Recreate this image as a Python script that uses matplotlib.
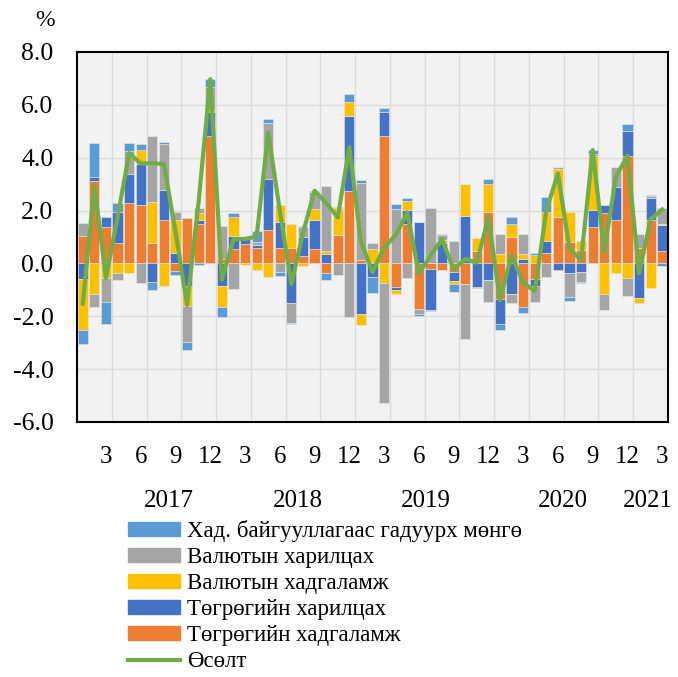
import numpy as np
import matplotlib
matplotlib.use("Agg")
import matplotlib.pyplot as plt
from matplotlib.patches import Patch
from matplotlib.lines import Line2D

plt.rcParams['font.family'] = ['Liberation Serif', 'DejaVu Serif']
plt.rcParams['axes.unicode_minus'] = False

# monthly contributions, Jan 2017 .. Mar 2021 (percentage points)
tg_dep = [1.05, 3.13, 1.36, 0.76, 2.27, 2.21, 0.78, 1.63, -0.28, 1.73, 1.51, 4.82,
          0.16, 0.54, 0.73, 0.59, 1.26, 0.57, 0.59, 0.29, 0.54, -0.38, 1.08, 2.75,
          0.13, 0.0, 4.83, -0.88, 1.51, -1.74, -0.21, -0.23, -0.34, -0.79, 0.47, 1.93,
          -1.35, 1.01, -1.64, -0.59, 0.40, 1.77, 0.82, 0.50, 1.39, 1.89, 1.64, 4.07,
          0.57, 1.64, 0.47]
tg_cur = [-0.59, 0.13, 0.38, 1.19, 1.10, 1.55, -0.69, 1.15, 0.40, -0.86, 0.13, 0.92,
          -0.85, 0.49, 0.21, 0.10, 1.92, 1.01, -1.48, 0.72, 1.10, 0.35, 0.0, 2.82,
          -1.92, -0.50, 0.91, -0.13, 0.50, 1.58, -1.55, 0.78, -0.33, 1.80, -0.88, -0.63,
          -0.95, -1.16, 0.16, -0.26, 0.44, -0.23, -0.38, -0.32, 0.63, 0.32, 1.26, 0.93,
          -1.29, 0.84, 0.98]
fx_dep = [-1.93, -1.17, -0.57, -0.38, -0.38, 0.55, 1.55, -0.84, 1.26, -0.76, 0.25, 0.06,
          -0.79, 0.73, -0.05, -0.23, -0.52, 0.63, 0.90, -0.09, 0.42, 0.11, 1.00, 0.54,
          -0.42, 0.54, -0.73, -0.16, 0.35, 0.0, 0.0, 0.10, -0.09, 1.22, 0.48, 1.07,
          0.34, 0.48, 0.18, 0.32, 1.11, 1.80, 1.11, 0.34, 2.04, -1.17, -0.38, -0.54,
          -0.19, -0.92, 0.06]
fx_cur = [0.47, -0.48, -0.88, -0.23, 0.88, -0.73, 2.48, 1.73, 0.29, -1.35, 0.21, 0.88,
          1.25, -0.98, 0.0, 0.13, 2.14, -0.34, -0.76, 0.35, 0.63, 2.46, -0.42, -2.02,
          2.90, 0.25, -4.56, 2.06, -0.57, -0.19, 2.11, 0.21, 0.86, -2.07, 0.0, -0.84,
          0.77, -0.32, 0.79, -0.62, -0.50, 0.06, -0.88, -0.38, 0.08, -0.59, 0.73, -0.69,
          0.54, 0.09, 0.59]
outside = [-0.53, 1.31, -0.83, 0.33, 0.29, 0.20, -0.32, 0.09, -0.14, -0.32, -0.05, 0.29,
           -0.39, 0.13, 0.0, 0.42, 0.13, -0.13, -0.05, 0.05, 0.05, -0.25, 0.06, 0.29,
           0.13, -0.63, 0.15, 0.18, 0.13, -0.05, -0.05, 0.04, -0.32, 0.0, -0.06, 0.18,
           -0.20, 0.28, -0.23, 0.06, 0.57, 0.0, -0.15, -0.04, 0.15, 0.0, 0.0, 0.29,
           0.0, 0.03, -0.08]
growth = [-1.52, 2.93, -0.55, 1.75, 4.17, 3.78, 3.80, 3.76, 1.20, -1.57, 2.35, 6.97,
          -0.62, 0.92, 0.93, 1.01, 4.95, 2.00, -0.78, 1.15, 2.75, 2.28, 1.74, 4.40,
          0.85, -0.33, 0.60, 1.07, 1.93, -0.38, 0.28, 0.92, -0.23, 0.17, 0.03, 1.73,
          -1.39, 0.30, -0.72, -1.05, 2.00, 3.40, 0.55, 0.13, 4.29, 0.45, 3.27, 4.08,
          -0.37, 1.67, 2.04]

month_ticks = [2, 5, 8, 11, 14, 17, 20, 23, 26, 29, 32, 35, 38, 41, 44, 47, 50]
month_labels = ['3', '6', '9', '12'] * 4 + ['3']
years = ['2017', '2018', '2019', '2020', '2021']
year_pos = [7.4, 18.6, 29.6, 41.4, 48.8]

series = [
    (tg_dep, '#ED7D31', 'Төгрөгийн хадгаламж'),
    (tg_cur, '#4472C4', 'Төгрөгийн харилцах'),
    (fx_dep, '#FFC000', 'Валютын хадгаламж'),
    (fx_cur, '#A5A5A5', 'Валютын харилцах'),
    (outside, '#5B9BD5', 'Хад. байгууллагаас гадуурх мөнгө'),
]

fig = plt.figure(figsize=(6.78, 6.77), dpi=100)
ax = fig.add_axes([77 / 678, 1 - 422 / 677, 591 / 678, 370 / 677])
ax.set_facecolor('#F2F2F2')

x = np.arange(len(growth))
pos_bottom = np.zeros(len(x))
neg_bottom = np.zeros(len(x))
for vals, color, name in series:
    v = np.array(vals)
    bottom = np.where(v >= 0, pos_bottom, neg_bottom)
    ax.bar(x, v, width=0.88, bottom=bottom, color=color,
           edgecolor='#E8E8E8', linewidth=0.4, zorder=2)
    pos_bottom += np.where(v >= 0, v, 0)
    neg_bottom += np.where(v < 0, v, 0)

ax.plot(x, growth, color='#70AD47', linewidth=3.0, zorder=3)

ax.set_xlim(-0.5, len(x) - 0.5)
ax.set_ylim(-6, 8)
ax.set_yticks(np.arange(-6, 9, 2))
ax.set_yticklabels(['%.1f' % t for t in np.arange(-6, 9, 2)], fontsize=18.5)
ax.set_xticks(month_ticks)
ax.set_xticklabels(month_labels, fontsize=18)
ax.tick_params(axis='both', length=0)
ax.tick_params(axis='x', pad=17)
ax.tick_params(axis='y', pad=17)

# gridlines
for g in np.arange(2.5, len(x) - 1, 3):
    ax.axvline(g, color='#DCDCDC', linewidth=1.0, zorder=1)
for g in np.arange(-4, 8, 2):
    ax.axhline(g, color='#DCDCDC', linewidth=1.0, zorder=1)

for s in ax.spines.values():
    s.set_linewidth(1.5)
    s.set_color('black')

trans = matplotlib.transforms.blended_transform_factory(ax.transData, ax.transAxes)
for yr, p in zip(years, year_pos):
    ax.text(p, -0.214, yr, transform=trans, ha='center', va='center', fontsize=18)

fig.text(45 / 678, 1 - 21 / 677, '%', ha='center', va='center', fontsize=17)

handles = [Patch(color=c) for _, c, _ in series[::-1]]
labels = [n for _, _, n in series[::-1]]
handles.append(Line2D([0], [0], color='#70AD47', linewidth=3))
labels.append('Өсөлт')
fig.legend(handles, labels, loc='upper left', bbox_to_anchor=(128 / 678, 1 - 520 / 677),
           frameon=False, fontsize=16.5, handlelength=2.27, handleheight=0.57,
           handletextpad=0.3, labelspacing=0.22, borderpad=0, borderaxespad=0)

fig.savefig('out.png', dpi=100)
